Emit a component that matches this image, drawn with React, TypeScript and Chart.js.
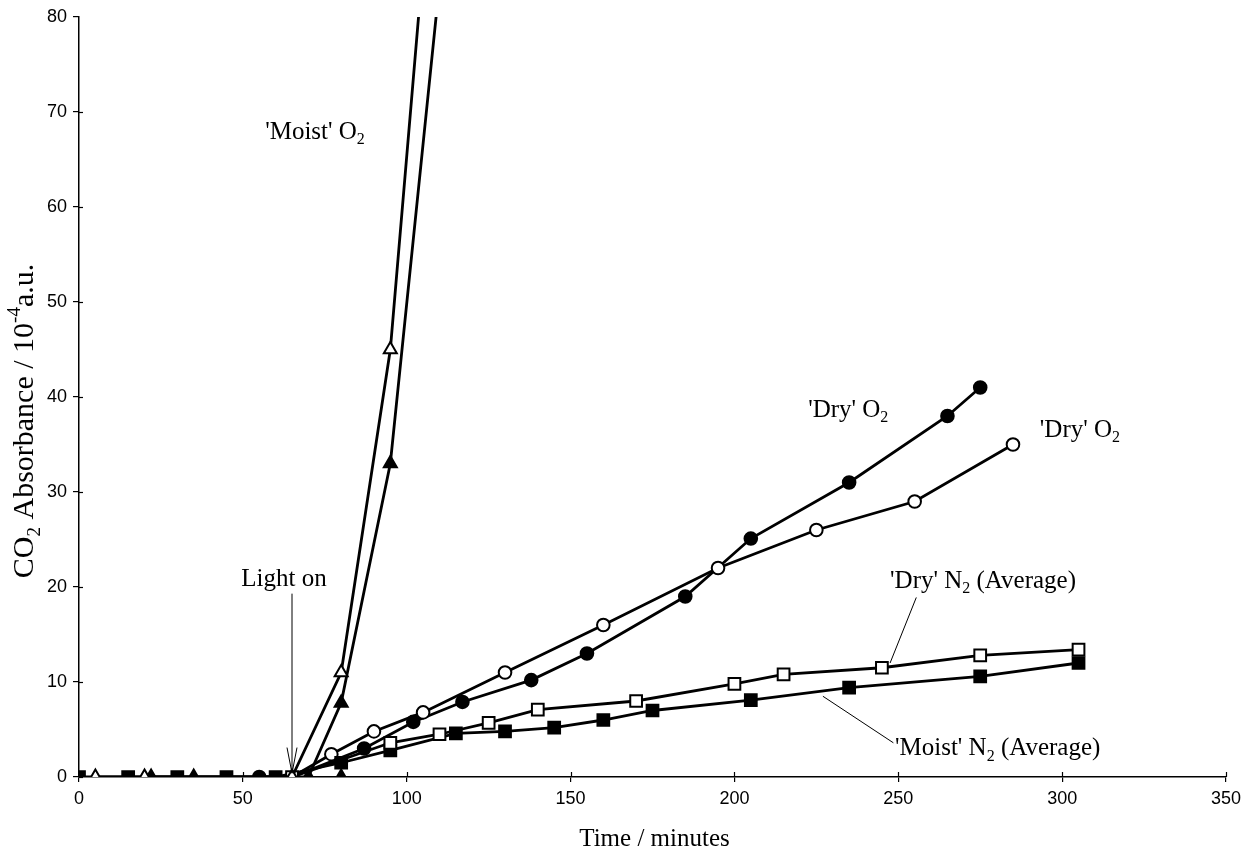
import React, { useEffect, useRef } from "react";
import { Chart, registerables } from "chart.js";

Chart.register(...registerables);

// ---- data (minutes, absorbance / 1e-4 a.u.) ----
const moistO2OpenT = [5, 20, 65, 80, 95, 110];
const moistO2OpenV = [0, 0, 0, 11, 45, 106];
const moistO2FilledT = [22, 35, 70, 80, 95, 110];
const moistO2FilledV = [0, 0, 0, 7.8, 33, 83.5];
const extraTriT = [80];
const extraTriV = [0];
const dryO2FilledT = [55, 65, 87, 102, 117, 138, 155, 185, 205, 235, 265, 275];
const dryO2FilledV = [0, 0, 3, 5.8, 7.9, 10.2, 13, 19, 25.1, 31, 38, 41];
const dryO2OpenT = [65, 77, 90, 105, 130, 160, 195, 225, 255, 285];
const dryO2OpenV = [0, 2.4, 4.8, 6.8, 11, 16, 22, 26, 29, 35];
const dryN2T = [65, 95, 110, 125, 140, 170, 200, 215, 245, 275, 305];
const dryN2V = [0, 3.6, 4.5, 5.7, 7.1, 8, 9.8, 10.8, 11.5, 12.8, 13.4];
const moistN2T = [0, 15, 30, 45, 60, 80, 95, 115, 130, 145, 160, 175, 205, 235, 275, 305];
const moistN2V = [0, 0, 0, 0, 0, 1.5, 2.8, 4.6, 4.8, 5.2, 6, 7, 8.1, 9.4, 10.6, 12];

const xTicks = [0, 50, 100, 150, 200, 250, 300, 350];
const yTicks = [0, 10, 20, 30, 40, 50, 60, 70, 80];

const pts = (t: number[], v: number[]) => t.map((x, i) => ({ x, y: v[i] }));

const SERIF = '"Liberation Serif", "Times New Roman", serif';
const SANS = '"Liberation Sans", Arial, sans-serif';

type Part = { t: string; sub?: boolean; sup?: boolean };

function drawRich(ctx: CanvasRenderingContext2D, parts: Part[], x: number, y: number, size: number, align: "left" | "center" = "left") {
  const small = Math.round(size * 0.64);
  const widths = parts.map((p) => {
    ctx.font = `${p.sub || p.sup ? small : size}px ${SERIF}`;
    return ctx.measureText(p.t).width;
  });
  const total = widths.reduce((a, b) => a + b, 0);
  let cx = align === "center" ? x - total / 2 : x;
  ctx.textBaseline = "alphabetic";
  ctx.textAlign = "left";
  parts.forEach((p, i) => {
    ctx.font = `${p.sub || p.sup ? small : size}px ${SERIF}`;
    let dy = 0;
    if (p.sub) dy = size * 0.22;
    if (p.sup) dy = -size * 0.42;
    ctx.fillText(p.t, cx, y + dy);
    cx += widths[i];
  });
}

const annotPlugin = {
  id: "annot",
  afterDraw(chart: any) {
    const ctx: CanvasRenderingContext2D = chart.ctx;
    const xs = chart.scales.x;
    const ys = chart.scales.y;
    const area = chart.chartArea;
    const X = (v: number) => xs.getPixelForValue(v);
    const Y = (v: number) => ys.getPixelForValue(v);
    ctx.save();
    ctx.strokeStyle = "#000";
    ctx.fillStyle = "#000";
    // inner tick marks
    ctx.lineWidth = 1.2;
    xTicks.forEach((t) => {
      const px = Math.round(X(t)) + 0.5;
      ctx.beginPath();
      ctx.moveTo(px, area.bottom);
      ctx.lineTo(px, area.bottom - 5);
      ctx.stroke();
    });
    yTicks.forEach((t) => {
      if (t === 80) return;
      const py = Math.round(Y(t)) + 0.5;
      ctx.beginPath();
      ctx.moveTo(area.left, py);
      ctx.lineTo(area.left + 4, py);
      ctx.stroke();
    });

    // leader lines
    ctx.lineWidth = 1;
    ctx.beginPath();
    ctx.moveTo(X(255.5), Y(18.9));
    ctx.lineTo(X(247.5), Y(12));
    ctx.stroke();
    ctx.beginPath();
    ctx.moveTo(X(227), Y(8.5));
    ctx.lineTo(X(248.5), Y(3.6));
    ctx.stroke();
    // light on arrow
    const ax = X(65);
    ctx.beginPath();
    ctx.moveTo(ax, Y(19.3));
    ctx.lineTo(ax, Y(0.4));
    ctx.stroke();
    ctx.beginPath();
    ctx.moveTo(ax - 5, Y(3.1));
    ctx.lineTo(ax, Y(0.4));
    ctx.lineTo(ax + 5, Y(3.1));
    ctx.stroke();

    // labels
    const S = 25;
    drawRich(ctx, [{ t: "'Moist' O" }, { t: "2", sub: true }], X(56.8), Y(67.2), S);
    drawRich(ctx, [{ t: "'Dry' O" }, { t: "2", sub: true }], X(222.5), Y(37.9), S);
    drawRich(ctx, [{ t: "'Dry' O" }, { t: "2", sub: true }], X(293.2), Y(35.8), S);
    drawRich(ctx, [{ t: "'Dry' N" }, { t: "2", sub: true }, { t: " (Average)" }], X(247.5), Y(19.9), S);
    drawRich(ctx, [{ t: "'Moist' N" }, { t: "2", sub: true }, { t: " (Average)" }], X(249), Y(2.3), S);
    drawRich(ctx, [{ t: "Light on" }], X(49.5), Y(20.1), S);

    // axis titles
    drawRich(ctx, [{ t: "Time / minutes" }], (area.left + area.right) / 2 + 2, 846, S, "center");
    ctx.save();
    ctx.translate(33, 421);
    ctx.rotate(-Math.PI / 2);
    drawRich(
      ctx,
      [{ t: "CO" }, { t: "2", sub: true }, { t: " Absorbance / 10" }, { t: "-4", sup: true }, { t: "a.u." }],
      0,
      0,
      30,
      "center"
    );
    ctx.restore();
    ctx.restore();
  },
};

export default function App() {
  const ref = useRef<HTMLCanvasElement | null>(null);
  useEffect(() => {
    if (!ref.current) return;
    const base = {
      showLine: true,
      borderColor: "#000",
      borderWidth: 2.8,
      pointBorderColor: "#000",
      pointBorderWidth: 2,
      fill: false,
      tension: 0,
    };
    const chart = new Chart(ref.current, {
      type: "scatter",
      data: {
        datasets: [
          {
            ...base,
            label: "Moist O2 (open)",
            data: pts(moistO2OpenT, moistO2OpenV),
            pointStyle: "triangle",
            pointRadius: 7.5,
            pointBackgroundColor: "#fff",
          },
          {
            ...base,
            label: "Dry N2",
            data: pts(dryN2T, dryN2V),
            pointStyle: "rect",
            pointRadius: 8.3,
            pointBackgroundColor: "#fff",
          },
          {
            ...base,
            label: "Moist O2 (filled)",
            data: pts(moistO2FilledT, moistO2FilledV),
            pointStyle: "triangle",
            pointRadius: 7.5,
            pointBackgroundColor: "#000",
          },
          {
            ...base,
            label: "extra",
            showLine: false,
            data: pts(extraTriT, extraTriV),
            pointStyle: "triangle",
            pointRadius: 7.5,
            pointBackgroundColor: "#000",
          },
          {
            ...base,
            label: "Moist N2",
            data: pts(moistN2T, moistN2V),
            pointStyle: "rect",
            pointRadius: 8.3,
            pointBackgroundColor: "#000",
          },
          {
            ...base,
            label: "Dry O2 (open)",
            data: pts(dryO2OpenT, dryO2OpenV),
            pointStyle: "circle",
            pointRadius: dryO2OpenT.map((_, i) => (i === 0 ? 0 : 6.3)),
            pointBackgroundColor: "#fff",
          },
          {
            ...base,
            label: "Dry O2 (filled)",
            data: pts(dryO2FilledT, dryO2FilledV),
            pointStyle: "circle",
            pointRadius: dryO2FilledT.map((_, i) => (i === 1 ? 0 : 6.3)),
            pointBackgroundColor: "#000",
          },
        ],
      },
      options: {
        responsive: false,
        animation: false,
        events: [],
        layout: { padding: { left: 0, top: 17, right: 27, bottom: 0 } },
        plugins: { legend: { display: false }, tooltip: { enabled: false }, title: { display: false } },
        scales: {
          x: {
            type: "linear",
            min: 0,
            max: 350,
            afterFit: (s: any) => {
              s.height = 77;
            },
            afterBuildTicks: (s: any) => {
              s.ticks = xTicks.map((v) => ({ value: v }));
            },
            border: { display: true, color: "#000", width: 1.5 },
            grid: { display: true, drawOnChartArea: false, drawTicks: true, tickLength: 5, color: "#000", lineWidth: 1.2 },
            ticks: { color: "#000", font: { family: SANS, size: 18 }, padding: 6, maxRotation: 0 },
          },
          y: {
            type: "linear",
            min: 0,
            max: 80,
            afterFit: (s: any) => {
              s.width = 79;
            },
            afterBuildTicks: (s: any) => {
              s.ticks = yTicks.map((v) => ({ value: v }));
            },
            border: { display: true, color: "#000", width: 1.5 },
            grid: { display: true, drawOnChartArea: false, drawTicks: true, tickLength: 6, color: "#000", lineWidth: 1.2 },
            ticks: { color: "#000", font: { family: SANS, size: 18 }, padding: 6 },
          },
        },
      },
      plugins: [annotPlugin],
    } as any);
    return () => chart.destroy();
  }, []);
  return (
    <div style={{ position: "fixed", left: 0, top: 0, width: 1253, height: 854, background: "#fff" }}>
      <canvas ref={ref} width={1253} height={854} style={{ display: "block" }} />
    </div>
  );
}
